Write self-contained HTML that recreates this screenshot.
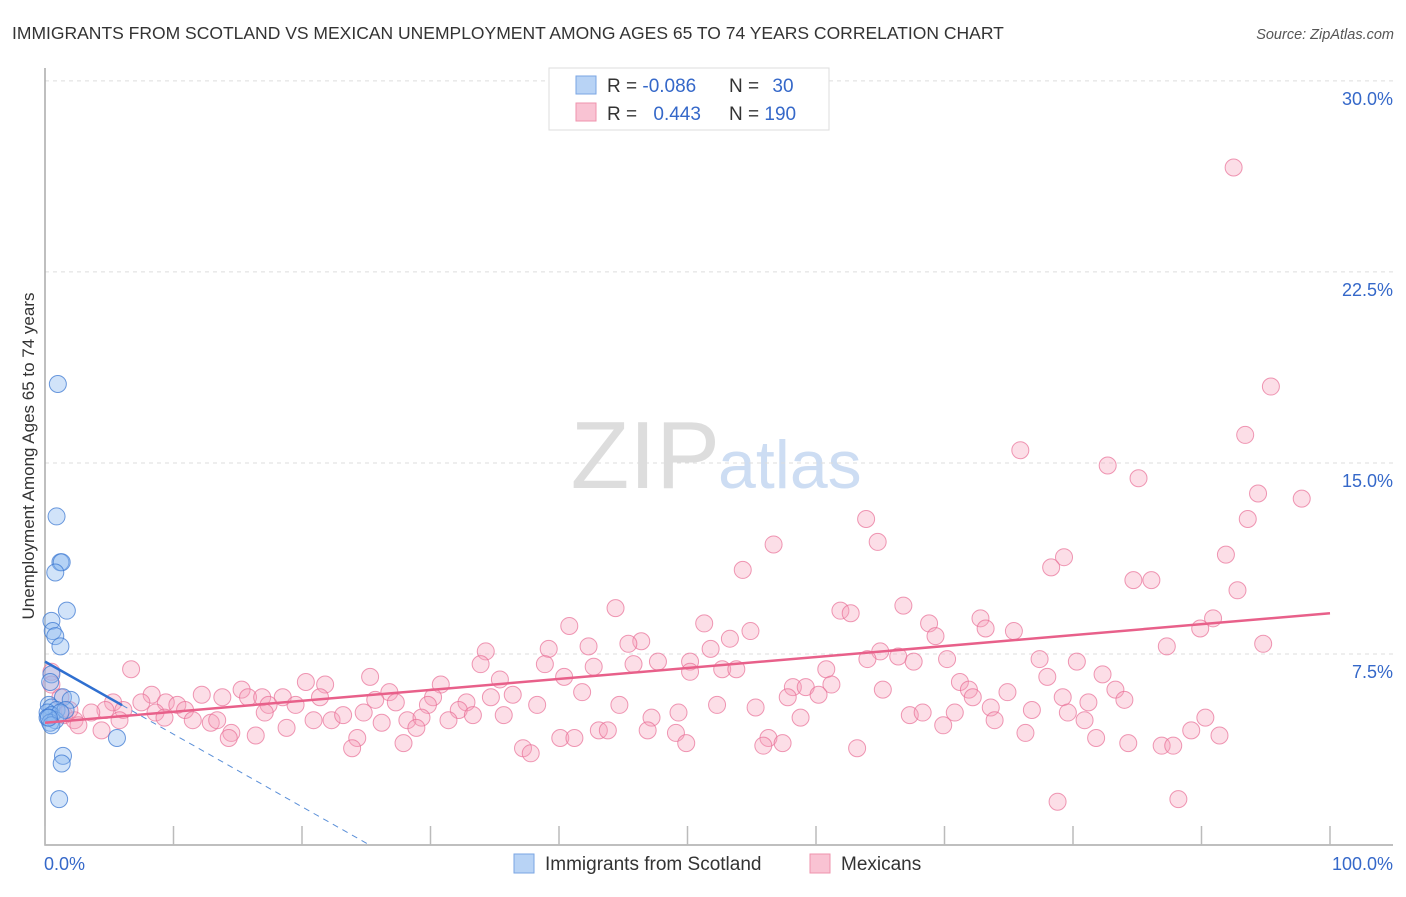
<!DOCTYPE html>
<html><head><meta charset="utf-8"><style>
body{margin:0;background:#fff;font-family:"Liberation Sans",sans-serif;}
svg text{font-family:"Liberation Sans",sans-serif;}
</style></head><body>
<svg id="chart" width="1406" height="892" xmlns="http://www.w3.org/2000/svg">
<text x="12" y="39" font-size="17.5" fill="#333">IMMIGRANTS FROM SCOTLAND VS MEXICAN UNEMPLOYMENT AMONG AGES 65 TO 74 YEARS CORRELATION CHART</text>
<text x="1394" y="39" font-size="14.5" fill="#555" text-anchor="end" font-style="italic">Source: ZipAtlas.com</text>
<text x="720" y="488" font-size="96" text-anchor="end" fill="#ddd" font-family="Liberation Serif">ZIP</text>
<text x="718" y="488" font-size="68" fill="#cdddf3">atlas</text>
<g id="grid"></g>
<g id="axes"></g>
<g id="marks"></g>
<text transform="translate(34,456) rotate(-90)" font-size="17" fill="#333" text-anchor="middle">Unemployment Among Ages 65 to 74 years</text>
<g>
<rect x="549" y="68" width="280" height="62" fill="#fff" stroke="#ddd"/>
<rect x="576" y="76" width="20" height="18" fill="#b8d3f5" stroke="#7aa6e3"/>
<rect x="576" y="103" width="20" height="18" fill="#f9c3d3" stroke="#ef93ad"/>
<text x="607" y="92" font-size="19" fill="#333">R = <tspan fill="#3568c9">-0.086</tspan></text>
<text x="729" y="92" font-size="19" fill="#333">N = <tspan fill="#3568c9" dx="8">30</tspan></text>
<text x="607" y="120" font-size="19" fill="#333">R = <tspan fill="#3568c9" dx="11">0.443</tspan></text>
<text x="729" y="120" font-size="19" fill="#333">N = <tspan fill="#3568c9">190</tspan></text>
</g>
<g>
<rect x="514" y="854" width="20" height="19" fill="#b8d3f5" stroke="#7aa6e3"/>
<text x="545" y="870" font-size="19" fill="#333">Immigrants from Scotland</text>
<rect x="810" y="854" width="20" height="19" fill="#f9c3d3" stroke="#ef93ad"/>
<text x="841" y="870" font-size="19" fill="#333">Mexicans</text>
</g>
</svg>
<script>
const yTicks=[7.5,15,22.5,30];
const yTickLabels=["7.5%","15.0%","22.5%","30.0%"];
const xTicks=[0,10,20,30,40,50,60,70,80,90,100];
const pinkX=[92.5,95.4,93.4,75.9,82.7,85.1,94.4,97.8,93.6,63.9,64.8,56.7,79.3,91.9,78.3,54.3,84.7,86.1,92.8,66.8,44.4,61.9,62.7,72.8,90.9,51.3,68.8,40.8,73.2,75.4,89.9,54.9,53.3,46.4,45.4,69.3,39.2,42.3,34.3,65.0,51.8,87.3,94.8,66.4,50.2,33.9,38.9,47.7,45.8,42.7,52.7,53.8,50.2,64.0,67.6,70.2,77.4,80.3,60.8,82.3,78.0,25.3,35.4,40.4,20.3,21.8,30.8,15.3,26.8,41.8,58.2,59.2,61.2,65.2,71.2,71.9,83.3,74.9,6.7,8.3,12.2,13.8,15.8,16.9,18.5,21.4,30.2,34.7,36.4,57.8,60.2,72.2,84.0,81.2,79.2,5.3,7.5,9.4,10.3,17.4,19.5,25.7,27.3,29.8,32.8,38.3,44.7,52.3,55.3,73.6,76.8,4.7,3.6,6.1,10.9,8.6,17.1,24.8,32.2,33.3,49.3,67.3,68.3,70.8,79.6,90.3,1.5,2.3,2.6,5.8,9.3,11.5,12.9,13.4,20.9,22.3,23.2,28.2,29.3,31.4,35.7,47.2,58.8,73.9,80.9,4.4,18.8,26.2,28.9,43.1,43.8,46.9,49.1,69.9,76.3,89.2,14.5,14.3,16.4,24.3,40.1,41.2,56.3,91.4,49.9,57.4,81.8,84.3,27.9,23.9,37.2,37.8,55.9,63.2,86.9,87.8,78.8,88.2,0.5,0.5,1.2,1.9];
const pinkY=[26.6,18.0,16.1,15.5,14.9,14.4,13.8,13.6,12.8,12.8,11.9,11.8,11.3,11.4,10.9,10.8,10.4,10.4,10.0,9.4,9.3,9.2,9.1,8.9,8.9,8.7,8.7,8.6,8.5,8.4,8.5,8.4,8.1,8.0,7.9,8.2,7.7,7.8,7.6,7.6,7.7,7.8,7.9,7.4,7.2,7.1,7.1,7.2,7.1,7.0,6.9,6.9,6.8,7.3,7.2,7.3,7.3,7.2,6.9,6.7,6.6,6.6,6.5,6.6,6.4,6.3,6.3,6.1,6.0,6.0,6.2,6.2,6.3,6.1,6.4,6.1,6.1,6.0,6.9,5.9,5.9,5.8,5.8,5.8,5.8,5.8,5.8,5.8,5.9,5.8,5.9,5.8,5.7,5.6,5.8,5.6,5.6,5.6,5.5,5.5,5.5,5.7,5.6,5.5,5.6,5.5,5.5,5.5,5.4,5.4,5.3,5.3,5.2,5.3,5.3,5.2,5.2,5.2,5.3,5.1,5.2,5.1,5.2,5.2,5.2,5.0,5.1,4.9,4.7,4.9,5.0,4.9,4.8,4.9,4.9,4.9,5.1,4.9,5.0,4.9,5.1,5.0,5.0,4.9,4.9,4.5,4.6,4.8,4.6,4.5,4.5,4.5,4.4,4.7,4.4,4.5,4.4,4.2,4.3,4.2,4.2,4.2,4.2,4.3,4.0,4.0,4.2,4.0,4.0,3.8,3.8,3.6,3.9,3.8,3.9,3.9,1.7,1.8,6.8,6.3,5.8,5.3];
const blueX=[1.0,0.9,1.2,1.3,0.8,1.7,0.5,0.6,0.8,1.2,0.5,0.4,1.4,2.0,0.3,0.5,0.9,0.2,0.5,0.2,0.8,0.4,1.6,1.2,0.5,5.6,1.4,1.3,1.1,0.3];
const blueY=[18.1,12.9,11.1,11.1,10.7,9.2,8.8,8.4,8.2,7.8,6.7,6.4,5.8,5.7,5.5,5.4,5.3,5.2,5.1,5.0,4.9,4.8,5.3,5.2,4.7,4.2,3.5,3.2,1.8,5.0];
const pinkTrend=[4.8,9.1];
const blueTrend=[7.2,-0.285];
const X0=45,X1=1330,Y0=845,PX=25.47;
const sx=v=>X0+(X1-X0)*v/100, sy=v=>Y0-PX*v;
const NS="http://www.w3.org/2000/svg";
function mk(p,t,a){const e=document.createElementNS(NS,t);for(const k in a)e.setAttribute(k,a[k]);p.appendChild(e);return e;}
const grid=document.getElementById('grid'),axes=document.getElementById('axes'),marks=document.getElementById('marks');
yTicks.forEach((t,i)=>{
 const l=mk(grid,'line',{x1:X0,x2:1393,y1:sy(t),y2:sy(t),stroke:'#ddd','stroke-dasharray':'4 4'});
 
 
 const tx=mk(grid,'text',{x:1393,y:sy(t)+24,'font-size':18,fill:'#3568c9','text-anchor':'end'});
 tx.textContent=yTickLabels[i];
 
 
});
const ax=mk(axes,'path',{d:`M${X0} 68V${Y0}H1393`,fill:'none',stroke:'#aaa','stroke-width':1.5});


xTicks.forEach(t=>{
 const l=mk(axes,'line',{x1:sx(t),x2:sx(t),y1:826,y2:Y0,stroke:'#bbb','stroke-width':1.5});
 
 
});
const xl=mk(axes,'text',{x:44,y:870,'font-size':18,fill:'#3568c9'});xl.textContent='0.0%';


const xr=mk(axes,'text',{x:1393,y:870,'font-size':18,fill:'#3568c9','text-anchor':'end'});xr.textContent='100.0%';


pinkX.forEach((x,i)=>{
 const c=mk(marks,'circle',{cx:sx(x),cy:sy(pinkY[i]),r:8.5,fill:'rgba(246,160,187,0.35)',stroke:'rgba(232,110,150,0.7)','stroke-width':1});
 
 
});
blueX.forEach((x,i)=>{
 const c=mk(marks,'circle',{cx:sx(x),cy:sy(blueY[i]),r:8.5,fill:'rgba(140,185,240,0.4)',stroke:'rgba(60,120,210,0.75)','stroke-width':1});
 
 
});
const pt=mk(marks,'line',{x1:sx(0),y1:sy(pinkTrend[0]),x2:sx(100),y2:sy(pinkTrend[1]),stroke:'#e8608a','stroke-width':2.5});


const xEnd=-blueTrend[0]/blueTrend[1];
const bd=mk(marks,'line',{x1:sx(6),y1:sy(blueTrend[0]+blueTrend[1]*6),x2:sx(xEnd),y2:sy(0),stroke:'#5a8fd8','stroke-width':1,'stroke-dasharray':'6 5'});


const bt=mk(marks,'line',{x1:sx(0),y1:sy(blueTrend[0]),x2:sx(6),y2:sy(blueTrend[0]+blueTrend[1]*6),stroke:'#2f6fd0','stroke-width':2.5});


</script>
</body></html>
